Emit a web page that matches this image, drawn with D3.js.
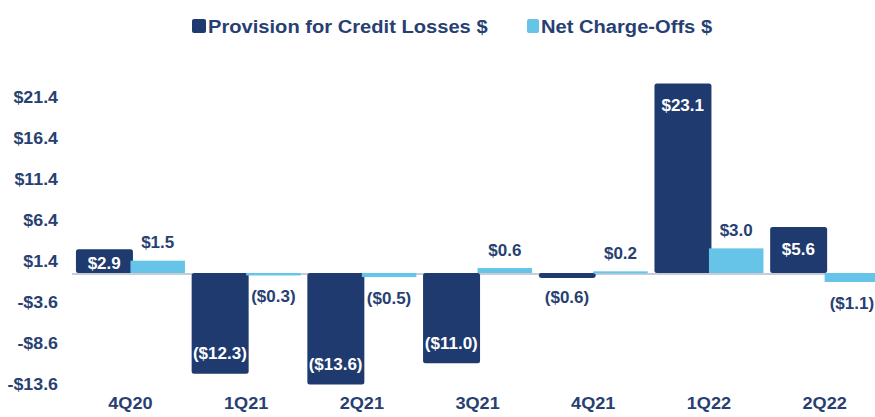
<!DOCTYPE html>
<html>
<head>
<meta charset="utf-8">
<script src="https://cdn.jsdelivr.net/npm/d3@7/dist/d3.min.js"></script>
<style>
  html, body { margin: 0; padding: 0; background: #ffffff; overflow: hidden; }
  svg { display: block; }
  text { font-family: "Liberation Sans", Arial, sans-serif; font-weight: bold; }
</style>
</head>
<body>
<div id="chart"></div>
<script>
const categories = ["4Q20", "1Q21", "2Q21", "3Q21", "4Q21", "1Q22", "2Q22"];
const provision = [2.9, -12.3, -13.6, -11.0, -0.6, 23.1, 5.6];
const netChargeOffs = [1.5, -0.3, -0.5, 0.6, 0.2, 3.0, -1.1];
const yTicks = [21.4, 16.4, 11.4, 6.4, 1.4, -3.6, -8.6, -13.6];
const seriesNames = ["Provision for Credit Losses $", "Net Charge-Offs $"];

const W = 875, H = 417;
const NAVY = "#1e3a6f", LIGHT = "#65c4e8", TEXT = "#283f72";

const svg = d3.select("#chart").append("svg").attr("width", W).attr("height", H);

const x0 = d3.scaleBand().domain(categories).range([72.6, 882.5]).paddingInner(0.058).paddingOuter(0.029);
const x1 = d3.scaleBand().domain(["prov", "nco"]).range([0, x0.bandwidth()]);
const y = d3.scaleLinear().domain([-13.6, 21.4]).range([384.5, 97.5]);

const fmt = v => v < 0 ? "($" + Math.abs(v).toFixed(1) + ")" : "$" + v.toFixed(1);
const money = v => (v < 0 ? "-$" : "$") + Math.abs(v).toFixed(1);

// Y axis labels
const yAxis = d3.axisLeft(y).tickValues(yTicks).tickFormat(money).tickSize(0).tickPadding(0);
const yg = svg.append("g").attr("transform", "translate(58,0)").call(yAxis);
yg.select(".domain").remove();
yg.selectAll("text").attr("fill", TEXT).attr("transform", "scale(1.08,1)")
  .style("font-size", "16.5px").style("font-family", "Liberation Sans, Arial, sans-serif").style("font-weight", "bold");

// X axis labels
const xAxis = d3.axisBottom(x0).tickSize(0).tickPadding(0);
const xg = svg.append("g").attr("transform", "translate(0,397)").call(xAxis);
xg.select(".domain").remove();
xg.selectAll("text").attr("fill", TEXT).attr("transform", "scale(1.1,1)")
  .style("font-size", "16.5px").style("font-family", "Liberation Sans, Arial, sans-serif").style("font-weight", "bold");

// Baseline
svg.append("line").attr("x1", 72).attr("x2", W).attr("y1", y(0) + 1).attr("y2", y(0) + 1)
  .attr("stroke", "#b4bccb").attr("stroke-width", 1.5);

const groups = svg.append("g").selectAll("g").data(categories).join("g")
  .attr("transform", d => `translate(${x0(d)},0)`);

// Provision bars
groups.append("rect")
  .attr("x", x1("prov"))
  .attr("width", x1.bandwidth() + 2.5)
  .attr("y", (d, i) => y(Math.max(0, provision[i])))
  .attr("height", (d, i) => Math.abs(y(provision[i]) - y(0)))
  .attr("rx", 2.5)
  .attr("fill", NAVY);

// Net charge-off bars
groups.append("rect")
  .attr("x", x1("nco"))
  .attr("width", x1.bandwidth())
  .attr("y", (d, i) => y(Math.max(0, netChargeOffs[i])))
  .attr("height", (d, i) => Math.max(2, Math.abs(y(netChargeOffs[i]) - y(0))))
  .attr("fill", LIGHT);

// Provision labels
groups.append("text")
  .attr("x", x1("prov") + x1.bandwidth() / 2 + 1)
  .attr("y", (d, i) => {
    const v = provision[i];
    const top = y(Math.max(0, v)), bot = y(Math.min(0, v));
    const h = bot - top;
    if (h < 18) return v < 0 ? bot + 20 : top - 18;
    if (v > 0) return Math.min(top + 22, (top + bot) / 2 + 2);
    return bot - 20;
  })
  .attr("text-anchor", "middle")
  .attr("dominant-baseline", "central")
  .attr("fill", (d, i) => Math.abs(y(provision[i]) - y(0)) < 18 ? TEXT : "#ffffff")
  .style("font-size", "17px")
  .text((d, i) => fmt(provision[i]));

// NCO labels
groups.append("text")
  .attr("x", x1("nco") + x1.bandwidth() / 2)
  .attr("y", (d, i) => {
    const v = netChargeOffs[i];
    return v < 0 ? y(v) + 21 : y(v) - 18;
  })
  .attr("text-anchor", "middle")
  .attr("dominant-baseline", "central")
  .attr("fill", TEXT)
  .style("font-size", "17px")
  .text((d, i) => fmt(netChargeOffs[i]));

// Legend
const legend = svg.append("g");
const legendItems = [
  { name: seriesNames[0], color: NAVY, sx: 192, sw: 14, tx: 208 },
  { name: seriesNames[1], color: LIGHT, sx: 527, sw: 12, tx: 541 }
];
legendItems.forEach(it => {
  legend.append("rect").attr("x", it.sx).attr("y", 19).attr("width", it.sw).attr("height", 14)
    .attr("rx", 2).attr("fill", it.color);
  legend.append("text").attr("transform", `translate(${it.tx},26) scale(1.06,1)`)
    .attr("dominant-baseline", "central")
    .attr("fill", TEXT).style("font-size", "19px").text(it.name);
});
</script>
</body>
</html>
